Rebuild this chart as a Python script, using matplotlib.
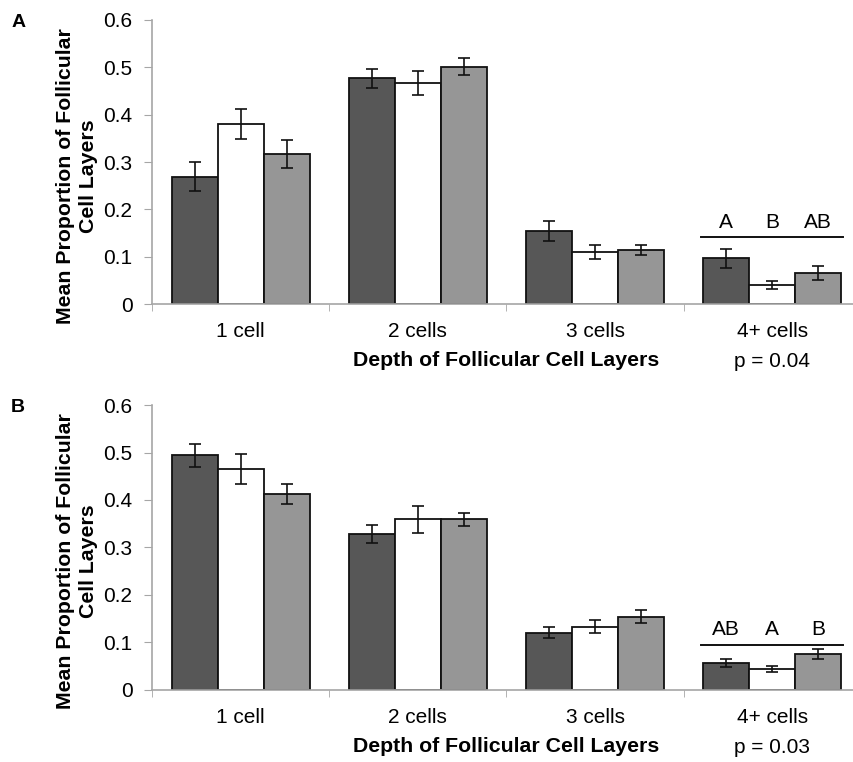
import matplotlib
matplotlib.use("Agg")
import matplotlib.pyplot as plt
import numpy as np

plt.rcParams['font.family'] = ['Liberation Sans', 'DejaVu Sans']

categories = ["1 cell", "2 cells", "3 cells", "4+ cells"]

a_dark = [0.269, 0.477, 0.155, 0.097]
a_dark_err = [0.031, 0.020, 0.021, 0.020]
a_white = [0.380, 0.467, 0.111, 0.041]
a_white_err = [0.032, 0.025, 0.015, 0.008]
a_gray = [0.317, 0.501, 0.115, 0.066]
a_gray_err = [0.029, 0.018, 0.011, 0.015]
a_letters = ["A", "B", "AB"]
a_pvalue = "p = 0.04"

b_dark = [0.494, 0.328, 0.121, 0.057]
b_dark_err = [0.024, 0.019, 0.011, 0.008]
b_white = [0.465, 0.359, 0.133, 0.044]
b_white_err = [0.032, 0.029, 0.014, 0.007]
b_gray = [0.413, 0.359, 0.154, 0.076]
b_gray_err = [0.021, 0.013, 0.014, 0.010]
b_letters = ["AB", "A", "B"]
b_pvalue = "p = 0.03"

yticks = [0, 0.1, 0.2, 0.3, 0.4, 0.5, 0.6]
ytick_labels = ["0", "0.1", "0.2", "0.3", "0.4", "0.5", "0.6"]

fig = plt.figure(figsize=(8.54, 7.62), dpi=100)

FS = 15
FSB = 15.3
axis_gray = "#a6a6a6"
colors = ["#575757", "#ffffff", "#969696"]
bw = 0.26


def panel(rect, series, errs, letters, sig_y, pvalue, tag):
    ax = fig.add_axes(rect)
    x = np.arange(len(categories))
    for i, (vals, err, c) in enumerate(zip(series, errs, colors)):
        ax.bar(x + (i - 1) * bw, vals, bw, color=c, edgecolor="#111111",
               linewidth=1.3, zorder=2)
        ax.errorbar(x + (i - 1) * bw, vals, yerr=err, fmt="none",
                    ecolor="#111111", elinewidth=1.2, capsize=4,
                    capthick=1.2, zorder=3)
    ax.set_xlim(-0.5, 3.5)
    ax.set_ylim(0, 0.6)
    ax.set_yticks(yticks)
    ax.set_yticklabels(ytick_labels, fontsize=FS)
    ax.set_xticks(x)
    ax.set_xticklabels(categories, fontsize=FS)
    ax.set_xticks([-0.5, 0.5, 1.5, 2.5, 3.5], minor=True)
    ax.tick_params(axis="x", which="major", length=0, pad=13)
    ax.tick_params(axis="x", which="minor", length=5, color=axis_gray,
                   direction="out")
    ax.tick_params(axis="y", length=6, color=axis_gray, direction="out",
                   pad=8)
    for s in ["top", "right"]:
        ax.spines[s].set_visible(False)
    for s in ["left", "bottom"]:
        ax.spines[s].set_color(axis_gray)
        ax.spines[s].set_linewidth(1.2)
    ax.set_xlabel("Depth of Follicular Cell Layers", fontsize=FSB,
                  fontweight="bold", labelpad=7)
    ax.text(-0.106, 0.451, "Mean Proportion of Follicular\nCell Layers",
            transform=ax.transAxes, rotation=90, ha="center", va="center",
            fontsize=FSB, fontweight="bold", linespacing=1.25)
    # significance annotation
    ax.plot([3 - 0.4, 3 + 0.4], [sig_y, sig_y], color="#111111",
            linewidth=1.4, zorder=3)
    for i, lab in enumerate(letters):
        ax.text(3 + (i - 1) * bw, sig_y + 0.012, lab, ha="center",
                va="bottom", fontsize=FS)
    ax.text(3, -0.203, pvalue, ha="center", va="center", fontsize=FS,
            transform=ax.get_xaxis_transform())
    fig.text(0.013, rect[1] + rect[3] - 0.003, tag, fontsize=14,
             fontweight="bold", ha="left", va="center")
    return ax


panel([0.178, 0.6007, 0.830, 0.3732],
      [a_dark, a_white, a_gray], [a_dark_err, a_white_err, a_gray_err],
      a_letters, 0.141, a_pvalue, "A")
panel([0.178, 0.0945, 0.830, 0.3740],
      [b_dark, b_white, b_gray], [b_dark_err, b_white_err, b_gray_err],
      b_letters, 0.095, b_pvalue, "B")

fig.savefig("out.png", dpi=100)
